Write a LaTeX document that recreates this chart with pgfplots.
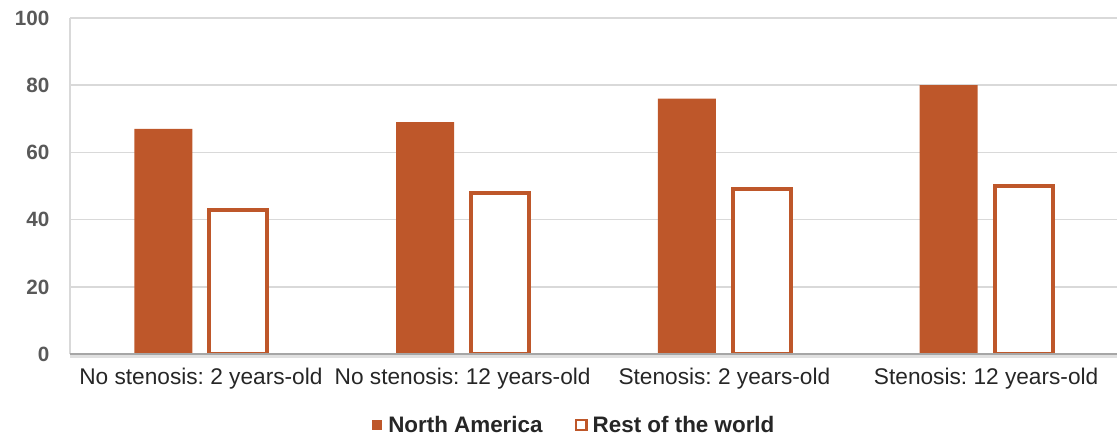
\documentclass[border=0pt]{standalone}
\usepackage{fontspec}
\setmainfont{Liberation Sans}
\usepackage{pgfplots}
\pgfplotsset{compat=1.18}
\usetikzlibrary{calc}

\definecolor{barorange}{RGB}{190,87,42}
\definecolor{gridgray}{RGB}{217,217,217}
\definecolor{ticktext}{RGB}{89,89,89}
\definecolor{labeltext}{RGB}{38,38,38}
\definecolor{axisgray}{RGB}{166,166,166}

\frenchspacing
\begin{document}
\begin{tikzpicture}
\begin{axis}[
  scale only axis,
  width=785pt, height=252pt,
  xmin=-0.5, xmax=3.5,
  ymin=0, ymax=100,
  ytick={0,20,...,100},
  xtick={0,1,2,3},
  xticklabels={No stenosis: 2 years-old, No stenosis: 12 years-old, Stenosis: 2 years-old, Stenosis: 12 years-old},
  ybar=12.75pt, bar width=43.5pt,
  axis lines*=left,
  x axis line style={draw=none},
  y axis line style={draw=gridgray, line width=1.2pt},
  ymajorgrids,
  grid style={draw=gridgray, line width=1.1pt},
  major tick length=0pt,
  clip=false,
  /pgf/number format/assume math mode=true,
  yticklabel style={font=\fontsize{15.5}{18}\selectfont\bfseries, text=ticktext, xshift=-12pt},
  xticklabel style={font=\fontsize{17}{20}\selectfont, text=labeltext, yshift=-7pt},
  legend columns=2,
  legend style={draw=none, fill=none, at={(0.482,-0.211)}, anchor=center,
    font=\fontsize{16.8}{20}\selectfont\bfseries, text=labeltext,
    /tikz/every even column/.append style={column sep=22pt}},
  legend cell align=left,
]
% North America: solid bars
\addplot[fill=barorange, draw=none,
  legend image code/.code={\fill[barorange] (0pt,-3.8pt) rectangle (7.6pt,3.8pt);
    \path (10pt,0pt);}]
  coordinates {(0,67) (1,69) (2,76) (3,80)};
\addlegendentry{North America}
% Rest of the world: outlined bars
\addplot[fill=white, draw=barorange, line width=3pt,
  legend image code/.code={\draw[barorange, line width=2pt, fill=white] (0pt,-3.8pt) rectangle (8pt,3.8pt);
    \path (9pt,0pt);}]
  coordinates {(0,43) (1,48) (2,49) (3,50)};
\addlegendentry{Rest of the world}
% baseline with a soft shadow
\draw[black!12, line width=2.5pt] ([yshift=-2pt]rel axis cs:0,0) -- ([yshift=-2pt]rel axis cs:1,0);
\draw[axisgray, line width=1.3pt] (rel axis cs:0,0) -- (rel axis cs:1,0);
\end{axis}
\pgfresetboundingbox
\path ($(current axis.south west)+(-52.5pt,-63.75pt)$) rectangle ($(current axis.north east)+(0pt,13.5pt)$);
\end{tikzpicture}
\end{document}
